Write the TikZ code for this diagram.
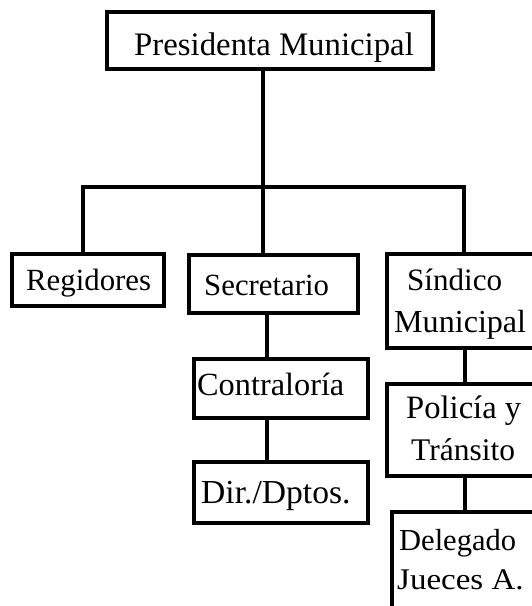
\documentclass[tikz,border=0pt]{standalone}
\usepackage{fontspec}
\setmainfont{Liberation Serif}
\begin{document}
\begin{tikzpicture}[x=1pt,y=-1pt,
  box/.style={draw=black,line width=4pt,rectangle,inner sep=0pt,fill=white},
  lbl/.style={anchor=base west,inner sep=0pt,font=\fontsize{#1}{#1}\selectfont},
  conn/.style={draw=black,line width=4pt}]
\useasboundingbox (0,0) rectangle (532,606);
\clip (0,0) rectangle (532,606);
\fill[white] (0,0) rectangle (532,606);
% boxes
\node[box,minimum width=326pt,minimum height=57pt] (pres) at (270,40.5) {};
\node[box,minimum width=152pt,minimum height=52pt] (reg) at (88,280) {};
\node[box,minimum width=169pt,minimum height=58pt] (sec) at (273.5,284) {};
\node[box,minimum width=158pt,minimum height=94pt] (sin) at (466,301) {};
\node[box,minimum width=174pt,minimum height=59pt] (con) at (281,388.5) {};
\node[box,minimum width=174pt,minimum height=61pt] (dir) at (281,492.5) {};
\node[box,minimum width=158pt,minimum height=92pt] (pol) at (466,430) {};
\node[box,minimum width=153pt,minimum height=108pt] (del) at (468.5,566) {};
% bar coordinates
\coordinate (bar) at (263,187);
\coordinate (barL) at (83,187);
\coordinate (barR) at (464,187);
% connectors
\draw[conn] (pres.south -| bar) -- (bar);
\draw[conn,line cap=rect] (barL) -- (barR);
\draw[conn] (barL) -- (barL |- reg.north);
\draw[conn] (bar) -- (bar |- sec.north);
\draw[conn] (barR) -- (barR |- sin.north);
\draw[conn] (sec.south -| 267,0) -- (con.north -| 267,0);
\draw[conn] (con.south -| 267,0) -- (dir.north -| 267,0);
\draw[conn] (sin.south -| 465,0) -- (pol.north -| 465,0);
\draw[conn] (pol.south -| 465,0) -- (del.north -| 465,0);
% texts
\node[lbl=32.8] (tpres) at (134,55) {Presidenta Municipal};
\node[lbl=30.8] (treg) at (26,290) {Regidores};
\node[lbl=30.8] (tsec) at (204,295) {Secretario};
\node[lbl=31.1] (tsin1) at (407,290) {Síndico};
\node[lbl=32.1] (tsin2) at (394,332) {Municipal};
\node[lbl=32.3] (tcon) at (197,395) {Contraloría};
\node[lbl=33.6] (tdir) at (201,503) {Dir./Dptos.};
\node[lbl=32.6] (tpol1) at (406,418) {Policía y};
\node[lbl=31.5] (tpol2) at (411,460) {Tránsito};
\node[lbl=30.5] (tdel1) at (399,550) {Delegado};
\node[lbl=30] (tdel2) at (397,589) {\scalebox{1.1}[1]{Jueces A.}};
\end{tikzpicture}
\end{document}
